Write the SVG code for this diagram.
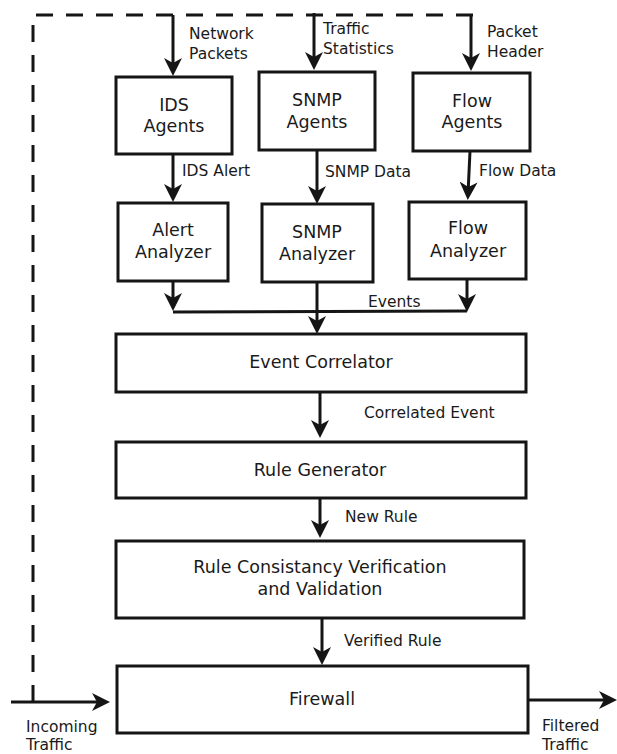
<svg xmlns="http://www.w3.org/2000/svg" width="617" height="754" viewBox="0 0 617 754">
<style>
  .box { fill: #ffffff; stroke: #151515; stroke-width: 3; }
  .t { font-family: "DejaVu Sans", "Liberation Sans", sans-serif; font-size: 17.5px; fill: #1a1a1a; text-anchor: middle; }
  .lbl { font-family: "DejaVu Sans", "Liberation Sans", sans-serif; font-size: 15.5px; fill: #1a1a1a; }
  .ln { fill: none; stroke: #151515; stroke-width: 3; }
  .arr { fill: none; stroke: #151515; stroke-width: 3; marker-end: url(#ah); }
  .dash { fill: none; stroke: #151515; stroke-width: 3; stroke-dasharray: 17 13; }
</style>
<defs>
  <marker id="ah" markerUnits="userSpaceOnUse" markerWidth="22" markerHeight="22" refX="8" refY="10" orient="auto">
    <path d="M0,1 L18,10 L0,19 L5,10 Z" fill="#151515"/>
  </marker>
</defs>
<rect width="617" height="754" fill="#ffffff"/>

<g id="connectors">
  <path class="dash" d="M33,702 L33,15 L474,15"/>
  <path class="arr" d="M173,15 L173,66"/>
  <path class="arr" d="M314,13 L314,60"/>
  <path class="arr" d="M471,15 L471,61"/>
  <path class="arr" d="M173,154 L173,192"/>
  <path class="arr" d="M317,150 L317,194"/>
  <path class="arr" d="M470,151 L468.2,190"/>
  <path class="arr" d="M173,281 L173,301"/>
  <path class="arr" d="M467,279 L467,302"/>
  <path class="ln" d="M173,312 L467,311"/>
  <path class="arr" d="M317,282 L317,324"/>
  <path class="arr" d="M320,392 L320,428"/>
  <path class="arr" d="M320,498 L320,528"/>
  <path class="arr" d="M322,618 L322,655"/>
  <path class="arr" d="M11,702 L100,702"/>
  <path class="arr" d="M528,700 L607,700"/>
  <text class="lbl" x="189" y="39">Network</text>
  <text class="lbl" x="189" y="59">Packets</text>
  <text class="lbl" x="323" y="34">Traffic</text>
  <text class="lbl" x="323" y="54">Statistics</text>
  <text class="lbl" x="487" y="37">Packet</text>
  <text class="lbl" x="487" y="57">Header</text>
  <text class="lbl" x="182" y="176">IDS Alert</text>
  <text class="lbl" x="325" y="177">SNMP Data</text>
  <text class="lbl" x="479" y="176">Flow Data</text>
  <text class="lbl" x="368" y="307">Events</text>
  <text class="lbl" x="364" y="418">Correlated Event</text>
  <text class="lbl" x="345" y="522">New Rule</text>
  <text class="lbl" x="344" y="646">Verified Rule</text>
  <text class="lbl" x="26" y="732">Incoming</text>
  <text class="lbl" x="26" y="750">Traffic</text>
  <text class="lbl" x="542" y="731">Filtered</text>
  <text class="lbl" x="542" y="750">Traffic</text>
</g>

<g id="ids-agents">
  <rect class="box" x="116" y="77" width="116" height="77"/>
  <text class="t" x="174" y="111">IDS</text>
  <text class="t" x="174" y="132">Agents</text>
</g>
<g id="snmp-agents">
  <rect class="box" x="259" y="72" width="116" height="78"/>
  <text class="t" x="317" y="106">SNMP</text>
  <text class="t" x="317" y="128">Agents</text>
</g>
<g id="flow-agents">
  <rect class="box" x="413" y="73" width="117" height="78"/>
  <text class="t" x="472" y="107">Flow</text>
  <text class="t" x="472" y="128">Agents</text>
</g>
<g id="alert-analyzer">
  <rect class="box" x="118" y="203" width="110" height="78"/>
  <text class="t" x="173" y="236">Alert</text>
  <text class="t" x="173" y="258">Analyzer</text>
</g>
<g id="snmp-analyzer">
  <rect class="box" x="262" y="204" width="111" height="78"/>
  <text class="t" x="317" y="238">SNMP</text>
  <text class="t" x="317" y="260">Analyzer</text>
</g>
<g id="flow-analyzer">
  <rect class="box" x="409" y="202" width="117" height="77"/>
  <text class="t" x="468" y="234">Flow</text>
  <text class="t" x="468" y="257">Analyzer</text>
</g>
<g id="event-correlator">
  <rect class="box" x="116" y="334" width="410" height="58"/>
  <text class="t" x="321" y="368">Event Correlator</text>
</g>
<g id="rule-generator">
  <rect class="box" x="116" y="442" width="410" height="56"/>
  <text class="t" x="320" y="476">Rule Generator</text>
</g>
<g id="rule-verification">
  <rect class="box" x="116" y="541" width="408" height="77"/>
  <text class="t" x="320" y="573">Rule Consistancy Verification</text>
  <text class="t" x="320" y="595">and Validation</text>
</g>
<g id="firewall">
  <rect class="box" x="117" y="666" width="411" height="67"/>
  <text class="t" x="322" y="705">Firewall</text>
</g>
</svg>
